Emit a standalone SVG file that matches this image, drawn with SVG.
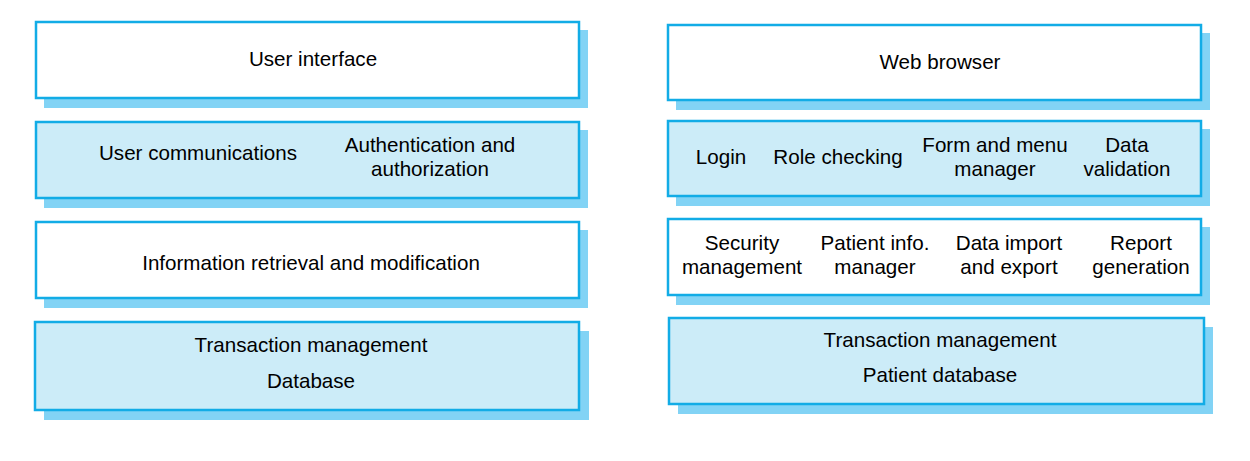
<svg xmlns="http://www.w3.org/2000/svg" width="1250" height="461" viewBox="0 0 1250 461">
<style>
.sh{fill:#82d3f5;stroke:none}
.bw{fill:#ffffff;stroke:#12ace6;stroke-width:2.5}
.bb{fill:#ccecf8;stroke:#12ace6;stroke-width:2.5}
text{font-family:"Liberation Sans",Arial,sans-serif;font-size:20.6px;fill:#000;text-anchor:middle}
</style>
<rect width="1250" height="461" fill="#ffffff"/>
<g id="connectors"></g>
<g id="left-user-interface">
<rect class="sh" x="44" y="30" width="544" height="78"/>
<rect class="bw" x="36" y="22" width="543" height="76"/>
<text x="313" y="66">User interface</text>
</g>
<g id="left-communications">
<rect class="sh" x="44" y="130" width="544" height="78"/>
<rect class="bb" x="36" y="122" width="543" height="76"/>
<text x="198" y="160">User communications</text>
<text x="430" y="152">Authentication and</text>
<text x="430" y="176">authorization</text>
</g>
<g id="left-information">
<rect class="sh" x="44" y="230" width="544" height="78"/>
<rect class="bw" x="36" y="222" width="543" height="76"/>
<text x="311" y="270">Information retrieval and modification</text>
</g>
<g id="left-database">
<rect class="sh" x="44" y="331" width="545" height="89"/>
<rect class="bb" x="35" y="322" width="544" height="88"/>
<text x="311" y="352">Transaction management</text>
<text x="311" y="388">Database</text>
</g>
<g id="right-web-browser">
<rect class="sh" x="676" y="33" width="534" height="77"/>
<rect class="bw" x="668" y="25" width="533" height="75"/>
<text x="940" y="69">Web browser</text>
</g>
<g id="right-login-layer">
<rect class="sh" x="676" y="129" width="534" height="77"/>
<rect class="bb" x="668" y="121" width="533" height="75"/>
<text x="721" y="164">Login</text>
<text x="838" y="164">Role checking</text>
<text x="995" y="152">Form and menu</text>
<text x="995" y="176">manager</text>
<text x="1127" y="152">Data</text>
<text x="1127" y="176">validation</text>
</g>
<g id="right-services">
<rect class="sh" x="676" y="227" width="534" height="78"/>
<rect class="bw" x="668" y="219" width="533" height="76"/>
<text x="742" y="250">Security</text>
<text x="742" y="274">management</text>
<text x="875" y="250">Patient info.</text>
<text x="875" y="274">manager</text>
<text x="1009" y="250">Data import</text>
<text x="1009" y="274">and export</text>
<text x="1141" y="250">Report</text>
<text x="1141" y="274">generation</text>
</g>
<g id="right-database">
<rect class="sh" x="678" y="327" width="535" height="87"/>
<rect class="bb" x="669" y="318" width="535" height="86"/>
<text x="940" y="347">Transaction management</text>
<text x="940" y="382">Patient database</text>
</g>
</svg>
